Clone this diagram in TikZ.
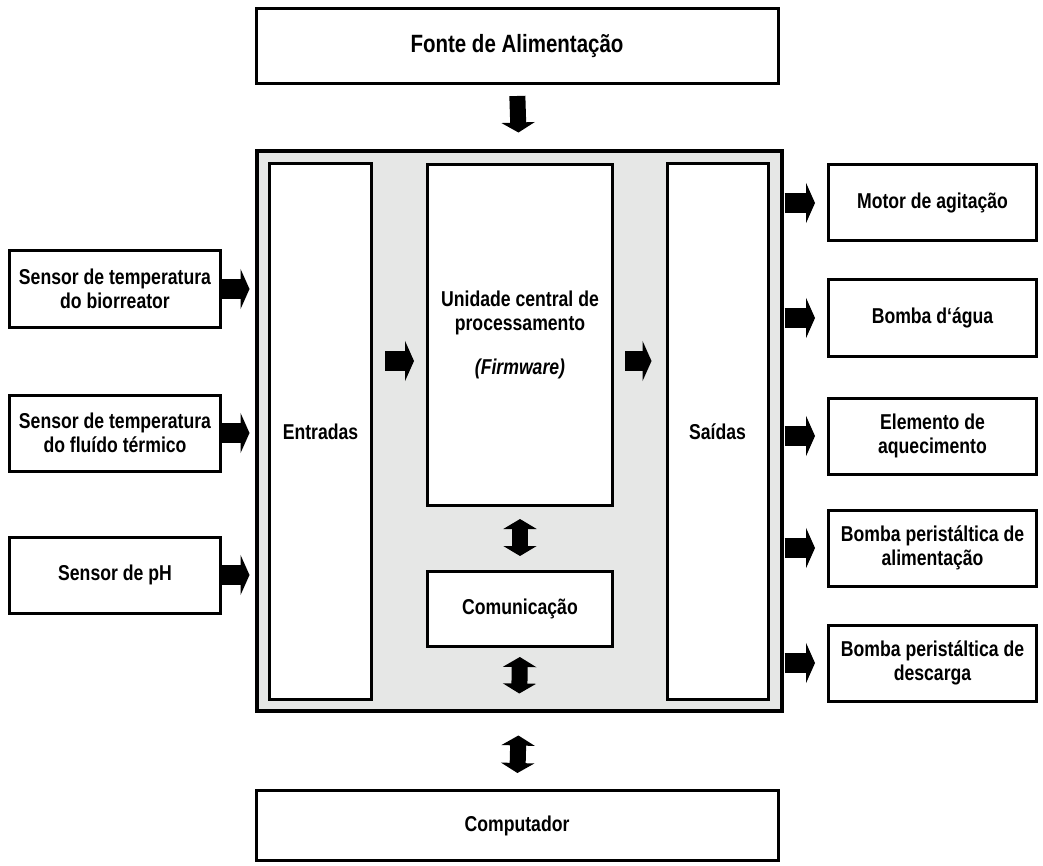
\documentclass[tikz,border=0pt]{standalone}
\usepackage{fontspec}
\setmainfont{Liberation Sans}[FakeStretch=0.82]
\usetikzlibrary{arrows.meta}
\definecolor{painel}{RGB}{230,231,230}
\begin{document}
\begin{tikzpicture}[x=1pt,y=-1pt,
    caixa/.style={draw, line width=3pt, fill=white, align=center, inner sep=0pt,
      font=\bfseries\fontsize{21.5}{24}\selectfont},
    sensor/.style={caixa, minimum width=211pt, minimum height=76pt},
    atuador/.style={caixa, minimum width=208pt, minimum height=76pt},
    seta/.style={line width=20pt, -{Triangle[width=40pt,length=9pt]}},
    setav/.style={line width=16pt, -{Triangle[width=33pt,length=10pt]}},
    setadupla/.style={line width=16pt, {Triangle[width=33pt,length=10pt]}-{Triangle[width=33pt,length=10pt]}}]
  \useasboundingbox (0,0) rectangle (1043,866);
  % blocos centrais
  \node[caixa, minimum width=522pt, minimum height=75pt, font=\bfseries\fontsize{25}{28}\selectfont] (fonte) at (517,46) {Fonte de Alimenta\c{c}\~ao};
  \node[draw, line width=4pt, fill=painel, minimum width=525pt, minimum height=559pt] (painel) at (519,431) {};
  \node[caixa, minimum width=102pt, minimum height=535pt] (entradas) at (320.5,431.5) {Entradas};
  \node[caixa, minimum width=185pt, minimum height=341pt] (cpu) at (520,335) {Unidade central de\\processamento\\[20pt]\textit{(Firmware)}};
  \node[caixa, minimum width=101pt, minimum height=535pt] (saidas) at (717.5,431.5) {Sa\'idas};
  \node[caixa, minimum width=185pt, minimum height=75pt] (comunicacao) at (520,609) {Comunica\c{c}\~ao};
  \node[caixa, minimum width=522pt, minimum height=70pt] (computador) at (517,825.5) {Computador};
  % sensores
  \node[sensor] (sensorA) at (115,289) {Sensor de temperatura\\do biorreator};
  \node[sensor] (sensorB) at (115,433) {Sensor de temperatura\\do flu\'ido t\'ermico};
  \node[sensor] (sensorC) at (115,575) {Sensor de pH};
  % atuadores
  \node[atuador] (motor) at (932.5,203) {Motor de agita\c{c}\~ao};
  \node[atuador] (bomba) at (932.5,318) {Bomba d{\char"60}\'agua};
  \node[atuador] (aquec) at (932.5,436) {Elemento de\\aquecimento};
  \node[atuador] (alim) at (932.5,548) {Bomba perist\'altica de\\alimenta\c{c}\~ao};
  \node[atuador] (desc) at (932.5,663) {Bomba perist\'altica de\\descarga};
  \coordinate (nivel) at (0,361);
  % setas
  \draw[setav, shorten <=11pt, shorten >=17pt] (fonte.south) -- (painel.north);
  \foreach \s in {sensorA,sensorB,sensorC}
    \draw[seta, shorten >=5pt] (\s.east) -- (\s.east -| painel.west);
  \foreach \a in {motor,bomba,aquec,alim,desc}
    \draw[seta, shorten <=1pt, shorten >=12pt] (painel.east |- \a.west) -- (\a.west);
  \draw[seta, shorten <=12pt, shorten >=12pt] (entradas.east |- nivel) -- (cpu.west |- nivel);
  \draw[seta, shorten <=11pt, shorten >=14pt] (cpu.east |- nivel) -- (saidas.west |- nivel);
  \draw[setadupla, shorten <=12pt, shorten >=14pt] (cpu.south) -- (comunicacao.north);
  \draw[setadupla, shorten <=9pt, shorten >=19pt] (comunicacao.south) -- (painel.south);
  \draw[setadupla, shorten <=23pt, shorten >=16pt] (painel.south) -- (computador.north);
\end{tikzpicture}
\end{document}
